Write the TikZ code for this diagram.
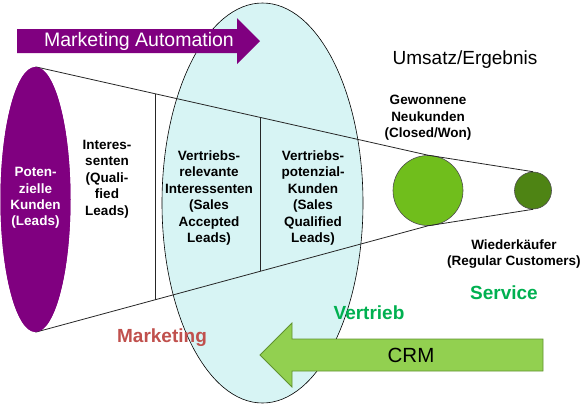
\documentclass[tikz,border=0pt]{standalone}
\usepackage{fontspec}
\setmainfont{Liberation Sans}
\usetikzlibrary{shapes.geometric,calc}
\definecolor{leadpurple}{RGB}{128,0,128}
\definecolor{salesblue}{RGB}{215,244,244}
\definecolor{wongreen}{RGB}{112,190,28}
\definecolor{regulargreen}{RGB}{78,132,20}
\definecolor{crmgreen}{RGB}{146,208,80}
\definecolor{crmborder}{RGB}{96,146,48}
\definecolor{wordgreen}{RGB}{0,176,80}
\definecolor{wordred}{RGB}{192,80,77}
\tikzset{
  stage/.style    = {align=center, font=\fontsize{13.5}{16.4}\selectfont\bfseries,
                     inner sep=0pt},
  whitestage/.style = {stage, text=white},
  bigword/.style  = {font=\fontsize{19}{22}\selectfont\bfseries, inner sep=0pt},
  plainword/.style = {font=\fontsize{19.5}{22}\selectfont, inner sep=0pt},
  funnel/.style   = {draw=black!85, line width=0.8pt},
  customer/.style = {circle, draw=black!70, line width=0.6pt, inner sep=0pt}
}
\begin{document}
\begin{tikzpicture}[x=1pt, y=-1pt]
  \useasboundingbox (0,0) rectangle (581,405);

  % Vertrieb area
  \node [ellipse, draw, fill=salesblue, line width=0.6pt,
         minimum width=201, minimum height=400] (sales) at (262.5,203) {};

  % funnel
  \node [ellipse, fill=leadpurple, minimum width=70, minimum height=265,
         inner sep=0pt] (leads) at (35.5,199.5) {};
  \node [customer, fill=wongreen, minimum size=70] (won) at (428,190.5) {};
  \node [customer, fill=regulargreen, minimum size=37] (regular) at (533,190.5) {};

  \draw [funnel] (leads.north) -- (won.north) -- (regular.north);
  \draw [funnel] (leads.south) -- (won.south) -- (regular.south);
  \draw [funnel] ($(leads.north)!0.305!(won.north)$) -- ($(leads.south)!0.305!(won.south)$);
  \draw [funnel] ($(leads.north)!0.572!(won.north)$) -- ($(leads.south)!0.572!(won.south)$);
  \node [ellipse, fill=leadpurple, minimum width=70, minimum height=265,
         inner sep=0pt] at (leads) {};

  % arrows
  \fill [leadpurple] (17,29) -- (237,29) -- (237,18) -- (260,41)
        -- (237,64) -- (237,53) -- (17,53) -- cycle;
  \node [plainword, text=white] (automation) at (139,41) {Marketing Automation};

  \draw [fill=crmgreen, draw=crmborder, line width=0.8pt]
        (543,339) -- (292,339) -- (292,323) -- (260,355)
        -- (292,387) -- (292,371) -- (543,371) -- cycle;
  \node [plainword, font=\fontsize{20.5}{22}\selectfont] (crm) at (411,355) {CRM};

  % stages
  \node [whitestage] (leadstxt) at (35.5,198) {Poten-\\zielle\\Kunden\\(Leads)};
  \node [stage] (qualified) at (107,179) {Interes-\\senten\\(Quali-\\fied\\Leads)};
  \node [stage] (accepted) at (209,198)
        {Vertriebs-\\relevante\\Interessenten\\(Sales\\Accepted\\Leads)};
  \node [stage] (salesqual) at (313,198)
        {Vertriebs-\\potenzial-\\Kunden\\(Sales\\Qualified\\Leads)};
  \node [stage] (wontxt) at (428,118) {Gewonnene\\Neukunden\\(Closed/Won)};
  \node [stage] (regtxt) at (514,254) {Wiederkäufer\\(Regular Customers)};
  \node [plainword, font=\fontsize{19}{22}\selectfont] (result) at (465,60) {Umsatz/Ergebnis};

  % departments
  \node [bigword, text=wordred] (marketing) at (162,338) {Marketing};
  \node [bigword, text=wordgreen] (vertrieb) at (369,313) {Vertrieb};
  \node [bigword, text=wordgreen] (service) at (504,293) {Service};
\end{tikzpicture}
\end{document}
